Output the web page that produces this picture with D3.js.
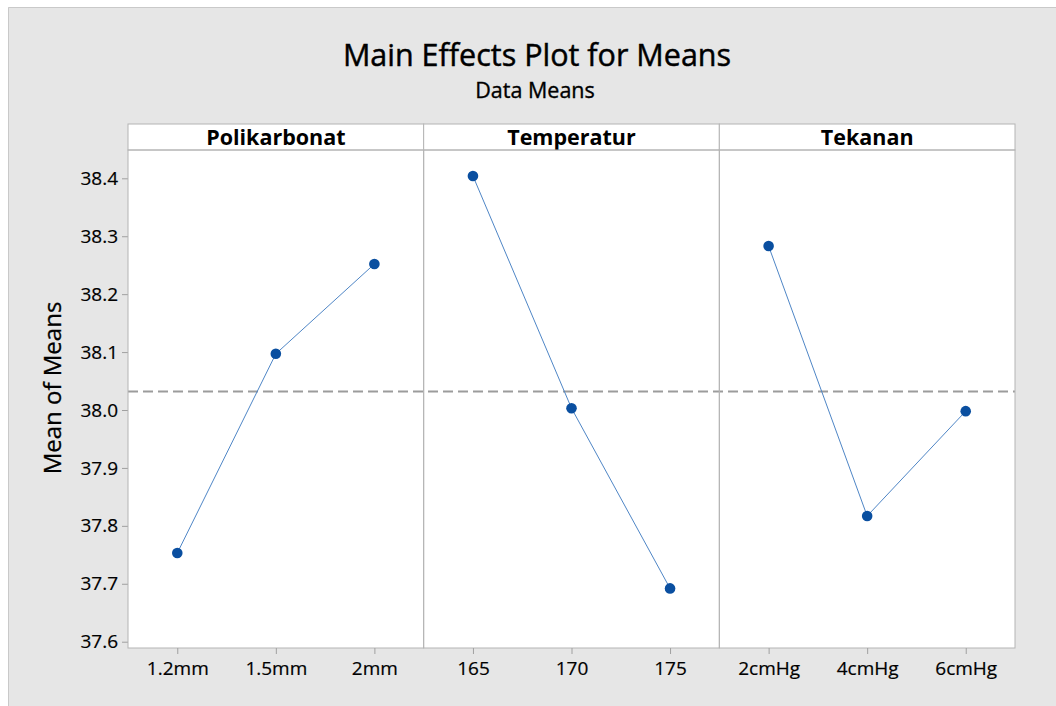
<!DOCTYPE html>
<html>
<head>
<meta charset="utf-8">
<script src="https://cdn.jsdelivr.net/npm/d3@7"></script>
<style>
  html, body { margin: 0; padding: 0; background: #ffffff; }
  svg { display: block; }
  text { font-family: "Open Sans", "Noto Sans", sans-serif; fill: #000; }
</style>
</head>
<body>
<svg id="chart" width="1056" height="706"></svg>
<script>
// ---- data ----
const factors = ["Polikarbonat", "Temperatur", "Tekanan"];
const polikarbonatLevels = ["1.2mm", "1.5mm", "2mm"];
const polikarbonatMeans = [37.753, 38.097, 38.252];
const temperaturLevels = ["165", "170", "175"];
const temperaturMeans = [38.404, 38.003, 37.692];
const tekananLevels = ["2cmHg", "4cmHg", "6cmHg"];
const tekananMeans = [38.283, 37.817, 37.998];
const grandMean = 38.032;
const yTicks = [37.6, 37.7, 37.8, 37.9, 38.0, 38.1, 38.2, 38.3, 38.4];
const titleText = "Main Effects Plot for Means";
const subtitleText = "Data Means";
const yLabel = "Mean of Means";

const panels = [
  { name: factors[0], levels: polikarbonatLevels, means: polikarbonatMeans },
  { name: factors[1], levels: temperaturLevels, means: temperaturMeans },
  { name: factors[2], levels: tekananLevels, means: tekananMeans }
];

// ---- layout ----
const W = 1056, H = 706;
const plotLeft = 128, plotRight = 1015;
const stripTop = 124, plotTop = 150, plotBottom = 648;
const panelW = (plotRight - plotLeft) / panels.length;

const svg = d3.select("#chart");

// background
svg.append("rect").attr("x", 8).attr("y", 7).attr("width", W - 8).attr("height", H - 7)
  .attr("fill", "#e6e6e6");
svg.append("path").attr("d", `M8.5,${H} V7.5 H${W}`).attr("fill", "none")
  .attr("stroke", "#c9c9c9").attr("stroke-width", 1);

// titles
svg.append("text").attr("x", 537).attr("y", 66).attr("text-anchor", "middle")
  .style("font-size", "30.5px").attr("stroke", "#000").attr("stroke-width", 0.45)
  .text(titleText);
svg.append("text").attr("x", 535).attr("y", 98).attr("text-anchor", "middle")
  .style("font-size", "21.5px").attr("stroke", "#000").attr("stroke-width", 0.35)
  .text(subtitleText);

// y scale
const y = d3.scaleLinear().domain([37.6, 38.4]).range([641.7, 178.3]);

// plot area white
svg.append("rect").attr("x", plotLeft).attr("y", stripTop)
  .attr("width", plotRight - plotLeft).attr("height", plotBottom - stripTop)
  .attr("fill", "#ffffff");

// y axis
const yAxis = d3.axisLeft(y).tickValues(yTicks).tickFormat(d3.format(".1f"))
  .tickSizeOuter(0).tickSizeInner(6).tickPadding(4);
const yg = svg.append("g").attr("transform", `translate(${plotLeft},0)`).call(yAxis);
yg.select(".domain").remove();
yg.selectAll(".tick line").attr("stroke", "#a0a0a0");
yg.selectAll(".tick text").style("font-size", "19px")
  .style("font-family", '"Open Sans", "Noto Sans", sans-serif').attr("fill", "#000")
  .attr("stroke", "#000").attr("stroke-width", 0.2);

// y label
svg.append("text").attr("transform", `translate(61,388) rotate(-90)`)
  .attr("text-anchor", "middle").style("font-size", "24px")
  .attr("stroke", "#000").attr("stroke-width", 0.3).text(yLabel);

// grand mean reference line
svg.append("line").attr("x1", plotLeft).attr("x2", plotRight)
  .attr("y1", y(grandMean)).attr("y2", y(grandMean))
  .attr("stroke", "#9c9c9c").attr("stroke-width", 2).attr("stroke-dasharray", "10,5");

panels.forEach((p, i) => {
  const x0 = plotLeft + i * panelW, x1 = x0 + panelW;
  const x = d3.scalePoint().domain(p.levels).range([x0, x1]).padding(0.5);
  const g = svg.append("g");

  // strip
  g.append("rect").attr("x", x0).attr("y", stripTop).attr("width", panelW)
    .attr("height", plotTop - stripTop).attr("fill", "#fff")
    .attr("stroke", "#b4b4b4").attr("stroke-width", 1);
  g.append("text").attr("x", (x0 + x1) / 2).attr("y", 145).attr("text-anchor", "middle")
    .style("font-size", "21.5px").style("font-weight", "bold").text(p.name);

  // panel frame
  g.append("rect").attr("x", x0).attr("y", plotTop).attr("width", panelW)
    .attr("height", plotBottom - plotTop).attr("fill", "none")
    .attr("stroke", "#b4b4b4").attr("stroke-width", 1);

  // x axis
  const xAxis = d3.axisBottom(x).tickSizeOuter(0).tickSizeInner(6).tickPadding(8);
  const xg = svg.append("g").attr("transform", `translate(0,${plotBottom})`).call(xAxis);
  xg.select(".domain").remove();
  xg.selectAll(".tick line").attr("stroke", "#a0a0a0");
  xg.selectAll(".tick text").style("font-size", "19px")
    .style("font-family", '"Open Sans", "Noto Sans", sans-serif').attr("fill", "#000")
    .attr("stroke", "#000").attr("stroke-width", 0.2);

  // line + points
  const data = p.levels.map((l, k) => ({ l, v: p.means[k] }));
  g.append("path").datum(data)
    .attr("d", d3.line().x(d => x(d.l)).y(d => y(d.v)))
    .attr("fill", "none").attr("stroke", "#4f86c6").attr("stroke-width", 1);
  g.selectAll("circle").data(data).join("circle")
    .attr("cx", d => x(d.l)).attr("cy", d => y(d.v)).attr("r", 5.3)
    .attr("fill", "#0a4fa0");
});
</script>
</body>
</html>
